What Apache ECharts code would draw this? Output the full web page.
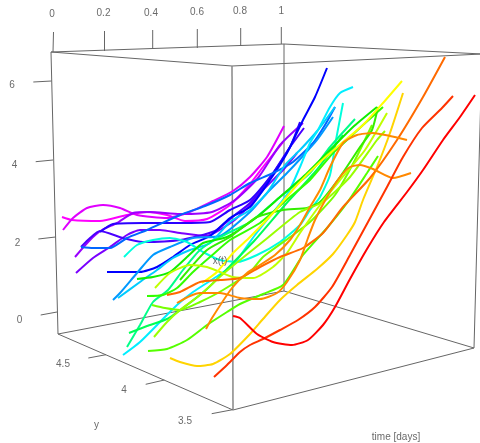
<!DOCTYPE html>
<html><head><meta charset="utf-8">
<style>html,body{margin:0;padding:0;background:#fff}#c{width:480px;height:443px}</style>
<script src="https://cdn.jsdelivr.net/npm/echarts@6/dist/echarts.min.js"></script>
</head><body><div id="c"></div>
<script>
const boxCorners = {A:[51,52],B:[232,66],C:[284,44],D:[482,54],E:[58,334],F:[233,410],G:[284,291],H:[474,348]};
const boxEdges = [['A','B'],['A','C'],['B','D'],['C','D'],['A','E'],['C','G'],['D','H'],['E','F'],['E','G'],['F','H'],['G','H']];
const frontEdge = ['B','F'];
const timeTicks = [['0',[53,52],[53.5,32],[52,14]],['0.2',[104.5,51],[104.5,31],[103.5,13]],['0.4',[152.7,49],[152.7,30],[151,13]],['0.6',[197.3,48],[197.3,29],[197,12]],['0.8',[240.7,46],[240.7,28],[240,11]],['1',[281.3,44],[281.3,27],[281.3,11.5]]];
const xtTicks = [['6',[51.5,81],[33.3,82],[12,85]],['4',[53,160],[35.7,161.7],[14.5,165]],['2',[55.5,237],[38.3,239],[17.5,243]],['0',[57,312],[40.7,315],[19.5,320]]];
const yTicks = [['4.5',[106,354.7],[88.3,358],[63,364]],['4',[164.3,380],[145.7,384.3],[124,390]],['3.5',[232.7,409.7],[211.7,413.7],[185,421]]];
const axisTitles = [['x(t)',[220,261]],['y',[96.5,425]],['time [days]',[396,437.5]]];

const magenta1 = [[62,217],[72,220],[100,221],[127,215],[147,212],[167,215],[185,221],[207,219],[230,205],[250,184],[263,167],[283,142]];
const magenta2 = [[63,230],[73,218],[87,208],[103,205],[120,208],[137,215],[167,218],[187,213],[213,201],[233,191],[250,177],[267,157],[284,126]];
const violet1 = [[75,257],[90,240],[102,230],[117,223],[133,213],[150,212],[180,214],[212,212],[235,200],[258,178],[280,145],[303,123]];
const violet2 = [[76,273],[93,258],[110,247],[127,235],[140,230],[160,230],[180,233],[205,236],[232,222],[250,205],[263,190],[283,170],[297,153]];
const indigo1 = [[81,247],[90,238],[100,231],[123,238],[143,242],[180,240],[215,231],[235,215],[250,203],[270,178],[288,150],[304,128]];
const indigo2 = [[100,232],[113,224],[143,223],[180,223],[210,222],[230,210],[250,200],[273,173],[290,147],[300,122]];
const blue1 = [[107,272],[120,272],[140,272],[157,267],[173,257],[190,245],[210,236],[230,218],[250,207],[270,180],[287,153],[303,120],[315,97],[327,68]];
const azure1 = [[81,247],[93,248],[110,248],[127,238],[147,230],[180,215],[205,206],[230,195],[250,183],[273,173],[293,162],[313,143],[325,125],[335,107]];
const azure2 = [[113,300],[120,293],[137,273],[153,255],[170,247],[193,238],[220,236],[250,212],[267,193],[287,173],[302,157],[317,140],[333,117]];
const cyan1 = [[118,298],[140,282],[157,270],[173,258],[190,250],[210,243],[230,222],[250,210],[267,193],[285,165],[300,150],[318,130],[335,107]];
const teal1 = [[124,257],[137,245],[153,240],[170,238],[187,242],[203,252],[220,260],[237,262],[257,255],[280,242],[300,225],[310,210],[320,197],[330,175],[336,140],[343,103]];
const cyan2 = [[123,355],[140,342],[160,322],[177,305],[193,292],[213,279],[233,265],[255,235],[288,193],[300,167],[310,143],[318,130],[330,107],[340,93],[353,87]];
const spring1 = [[127,347],[140,325],[153,302],[168,290],[183,270],[200,250],[220,237],[250,222],[280,197],[310,173],[330,147],[355,119]];
const spring2 = [[129,333],[147,326],[167,319],[187,305],[207,289],[227,269],[255,240],[285,205],[315,172],[343,135]];
const green1 = [[137,279],[153,277],[170,272],[187,257],[203,243],[227,237],[257,217],[280,197],[305,175],[333,147],[353,127],[377,107]];
const green2 = [[147,296],[163,295],[177,288],[193,272],[210,257],[230,240],[260,223],[290,197],[310,180],[333,153],[347,140],[363,125],[383,107]];
const green3 = [[148,351],[167,349],[187,340],[207,325],[227,312],[240,304],[263,294],[283,285],[303,255],[327,228],[347,203],[367,173],[378,156]];
const green4 = [[152,305],[165,308],[180,310],[200,302],[223,290],[250,272],[263,257],[293,235],[310,222],[335,195],[355,160],[372,125]];
const lime0 = [[180,280],[207,250],[230,237],[257,217],[283,210],[307,208],[320,202],[340,177],[360,147],[372,130],[378,107]];
const lime1 = [[154,337],[167,322],[180,310],[200,295],[222,275],[240,260],[265,240],[300,212],[323,202],[350,177],[377,140],[385,131]];
const lime2 = [[155,288],[170,273],[190,265],[207,267],[220,272],[233,277],[253,278],[273,267],[287,253],[300,233],[320,205],[340,180],[365,150],[387,113]];
const yellow1 = [[202,283],[217,272],[233,253],[250,237],[273,213],[297,185],[320,162],[343,142],[363,125],[383,103],[402,81]];
const gold1 = [[170,358],[180,362],[197,366],[213,364],[230,354],[250,334],[263,319],[280,300],[297,285],[317,269],[333,254],[347,235],[355,222],[363,200],[377,167],[390,133],[403,93]];
const orange1 = [[167,295],[180,292],[200,282],[220,280],[240,278],[260,267],[280,257],[303,248],[323,233],[343,207],[370,178],[397,140],[423,97],[445,57]];
const orange2 = [[177,303],[190,296],[200,293],[220,293],[240,298],[260,299],[277,293],[287,282],[300,260],[308,238],[315,220],[327,197],[340,177],[350,167],[360,165],[373,169],[393,178],[411,173]];
const redOrange1 = [[206,329],[212,318],[232,288],[247,273],[260,265],[275,255],[290,240],[300,225],[310,207],[320,190],[330,167],[343,143],[357,135],[373,133],[390,136],[407,140]];
const redOrange2 = [[214,377],[227,365],[240,352],[250,345],[263,339],[280,330],[298,320],[315,307],[332,287],[350,255],[368,222],[387,187],[403,157],[422,128],[442,108],[453,96]];
const red1 = [[233,316],[240,318],[257,334],[273,342],[292,345],[308,340],[323,325],[335,307],[350,279],[367,249],[384,222],[407,192],[423,170],[443,140],[460,117],[475,95]];

const curves = [
 [magenta1,'#ff00ff'],[magenta2,'#e000ff'],[violet1,'#9a00ff'],[violet2,'#7a00ff'],[indigo1,'#4a00ff'],[indigo2,'#2a00ff'],
 [blue1,'#0000ff'],[azure1,'#0066ff'],[azure2,'#0099ff'],[cyan1,'#00ccff'],[cyan2,'#00eeff'],[teal1,'#00ffdd'],
 [spring1,'#00ff88'],[spring2,'#00ff55'],[green1,'#11ee00'],[green2,'#33ff00'],[green3,'#55ff00'],[green4,'#77ff00'],[lime0,'#33ee00'],[lime1,'#99ff00'],[lime2,'#c0ff00'],
 [yellow1,'#ffff00'],[gold1,'#ffd400'],[orange1,'#ff6a00'],[orange2,'#ff8800'],[redOrange1,'#ff8a00'],[redOrange2,'#ff3300'],[red1,'#ff0000']
];

const ink = '#666', textInk = '#444';
const seg = (pts, color, width) => ({type:'line', data:pts, symbol:'none', silent:true, animation:false, lineStyle:{color, width}});
const series = [];
boxEdges.forEach(e => series.push(seg([boxCorners[e[0]], boxCorners[e[1]]], ink, 1)));
series.push(seg([boxCorners[frontEdge[0]], boxCorners[frontEdge[1]]], '#888', 1.5));
[...timeTicks, ...xtTicks, ...yTicks].forEach(t => series.push(seg([t[1], t[2]], ink, 1)));
curves.forEach(c => series.push({type:'line', data:c[0], symbol:'none', smooth:0.2, animation:false, silent:true, lineStyle:{color:c[1], width:2}}));
const labelled = [...timeTicks.map(t=>[t[0],t[3]]), ...xtTicks.map(t=>[t[0],t[3]]), ...yTicks.map(t=>[t[0],t[3]]), ...axisTitles];
series.push({type:'scatter', symbolSize:0, animation:false, silent:true, z:10,
  data: labelled.map(l => ({value:l[1], name:l[0]})),
  label:{show:true, position:'inside', formatter:p=>p.name, color:textInk, fontFamily:'Liberation Sans', fontSize:10}});

const chart = echarts.init(document.getElementById('c'), null, {renderer:'canvas'});
chart.setOption({
  backgroundColor:'#fff', animation:false,
  grid:{left:0,right:0,top:0,bottom:0},
  xAxis:{type:'value',min:0,max:480,show:false},
  yAxis:{type:'value',min:0,max:443,inverse:true,show:false},
  series
});
</script></body></html>
